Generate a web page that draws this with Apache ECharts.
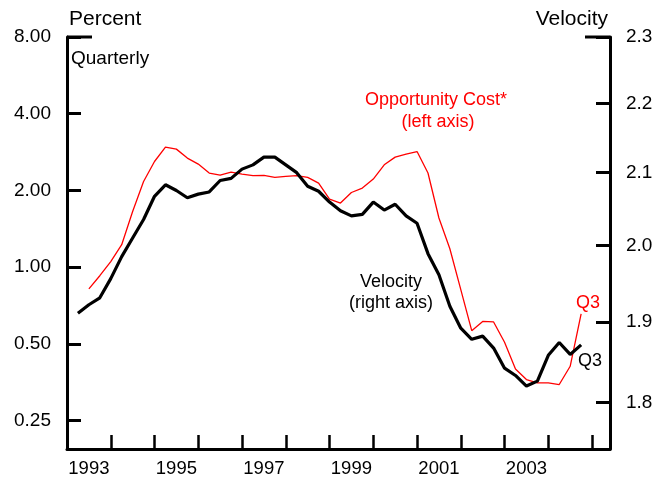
<!DOCTYPE html>
<html>
<head>
<meta charset="utf-8">
<script src="https://cdn.jsdelivr.net/npm/echarts@6/dist/echarts.min.js"></script>
<style>
  html, body { margin: 0; padding: 0; background: #fff; }
  #VelocityChart { width: 660px; height: 481px; }
</style>
</head>
<body>
<div id="VelocityChart"></div>
<script>
const quarters = [
  '1993Q1', '1993Q2', '1993Q3', '1993Q4', '1994Q1', '1994Q2', '1994Q3', '1994Q4',
  '1995Q1', '1995Q2', '1995Q3', '1995Q4', '1996Q1', '1996Q2', '1996Q3', '1996Q4',
  '1997Q1', '1997Q2', '1997Q3', '1997Q4', '1998Q1', '1998Q2', '1998Q3', '1998Q4',
  '1999Q1', '1999Q2', '1999Q3', '1999Q4', '2000Q1', '2000Q2', '2000Q3', '2000Q4',
  '2001Q1', '2001Q2', '2001Q3', '2001Q4', '2002Q1', '2002Q2', '2002Q3', '2002Q4',
  '2003Q1', '2003Q2', '2003Q3', '2003Q4', '2004Q1', '2004Q2', '2004Q3'
];
// velocity, right axis (log)
const velocity = [
  1.911, 1.922, 1.931, 1.956, 1.985, 2.010, 2.035, 2.067,
  2.083, 2.075, 2.065, 2.070, 2.073, 2.089, 2.092, 2.105,
  2.111, 2.122, 2.122, 2.111, 2.100, 2.081, 2.074, 2.059,
  2.047, 2.040, 2.042, 2.059, 2.048, 2.056, 2.040, 2.030,
  1.989, 1.961, 1.920, 1.892, 1.878, 1.882, 1.867, 1.842,
  1.833, 1.820, 1.826, 1.858, 1.874, 1.859, 1.871
];
// opportunity cost, percent, left axis (log)
const oppCost = [
  null, 0.821, 0.925, 1.051, 1.224, 1.653, 2.168, 2.597,
  2.957, 2.904, 2.678, 2.536, 2.340, 2.298, 2.361, 2.319,
  2.284, 2.290, 2.250, 2.270, 2.284, 2.250, 2.137, 1.850,
  1.784, 1.962, 2.042, 2.216, 2.520, 2.702, 2.776, 2.841,
  2.340, 1.558, 1.180, 0.816, 0.563, 0.612, 0.609, 0.507,
  0.398, 0.362, 0.351, 0.351, 0.346, 0.408, 0.655
];
const leftTicks = [0.25, 0.5, 1, 2, 4, 8];
const rightTicks = [1.8, 1.9, 2.0, 2.1, 2.2, 2.3];
const yearLabels = [1993, 1995, 1997, 1999, 2001, 2003];

const FONT = '"Liberation Sans", Arial, sans-serif';

// quarter label -> decimal year at end of quarter
function qToX(q) {
  return Number(q.slice(0, 4)) + Number(q.slice(5)) / 4;
}

let myChart;

function txt(x, y, text, size, color, align) {
  return {
    type: 'text',
    x: x,
    y: y,
    silent: true,
    style: {
      text: text,
      font: size + 'px ' + FONT,
      fill: color,
      align: align,
      verticalAlign: 'middle',
      textAlign: align,
      textVerticalAlign: 'middle'
    }
  };
}

const axisLine = { show: true, lineStyle: { color: '#000', width: 3 } };

const option = {
  animation: false,
  backgroundColor: '#fff',
  grid: { left: 67, right: 50, top: 37, bottom: 32, containLabel: false },
  xAxis: {
    type: 'value',
    min: 1993,
    max: 2005.41,
    interval: 1,
    axisLine: axisLine,
    axisTick: { show: true, inside: true, length: 14, lineStyle: { color: '#000', width: 2.5 } },
    axisLabel: {
      customValues: yearLabels.map(function (y) { return y + 0.5; }),
      formatter: function (v) { return String(Math.floor(v)); },
      color: '#000',
      fontSize: 18.5,
      fontFamily: FONT,
      margin: 10
    },
    splitLine: { show: false }
  },
  yAxis: [
    {
      type: 'log',
      logBase: 2,
      min: 0.1932,
      max: 8,
      position: 'left',
      axisLine: axisLine,
      axisTick: { show: true, inside: true, length: 14, customValues: leftTicks, lineStyle: { color: '#000', width: 3 } },
      axisLabel: {
        customValues: leftTicks,
        formatter: function (v) { return Number(v).toFixed(2); },
        color: '#000',
        fontSize: 19,
        fontFamily: FONT,
        margin: 16
      },
      splitLine: { show: false }
    },
    {
      type: 'log',
      logBase: 10,
      min: 1.7448,
      max: 2.3,
      position: 'right',
      axisLine: axisLine,
      axisTick: { show: true, inside: true, length: 14, customValues: rightTicks, lineStyle: { color: '#000', width: 3 } },
      axisLabel: {
        customValues: rightTicks,
        formatter: function (v) { return Number(v).toFixed(1); },
        color: '#000',
        fontSize: 19,
        fontFamily: FONT,
        margin: 16
      },
      splitLine: { show: false }
    }
  ],
  series: [
    {
      name: 'Opportunity Cost',
      type: 'line',
      yAxisIndex: 0,
      showSymbol: false,
      connectNulls: false,
      lineStyle: { color: '#ff0000', width: 1.3 },
      itemStyle: { color: '#ff0000' },
      data: quarters.map(function (q, i) { return [qToX(q), oppCost[i]]; })
    },
    {
      name: 'Velocity',
      type: 'line',
      yAxisIndex: 1,
      showSymbol: false,
      lineStyle: { color: '#000', width: 3.2 },
      itemStyle: { color: '#000' },
      data: quarters.map(function (q, i) { return [qToX(q), velocity[i]]; })
    }
  ],
  graphic: [
    // longer caps at the top of both axes
    { type: 'line', silent: true, shape: { x1: 67, y1: 37, x2: 92, y2: 37 }, style: { stroke: '#000', lineWidth: 3 } },
    { type: 'line', silent: true, shape: { x1: 585, y1: 37, x2: 610, y2: 37 }, style: { stroke: '#000', lineWidth: 3 } },
    txt(69, 19, 'Percent', 21, '#000', 'left'),
    txt(608, 19, 'Velocity', 21, '#000', 'right'),
    txt(71, 59, 'Quarterly', 19, '#000', 'left'),
    txt(436, 100, 'Opportunity Cost*', 18, '#ff0000', 'center'),
    txt(438, 122, '(left axis)', 18, '#ff0000', 'center'),
    txt(391, 282, 'Velocity', 18, '#000', 'center'),
    txt(391, 303, '(right axis)', 18, '#000', 'center'),
    txt(576, 303, 'Q3', 18, '#ff0000', 'left'),
    txt(578, 361, 'Q3', 18, '#000', 'left')
  ]
};

myChart = echarts.init(document.getElementById('VelocityChart'));
myChart.setOption(option);
window.addEventListener('resize', function () {
  myChart.resize();
});
</script>
</body>
</html>
